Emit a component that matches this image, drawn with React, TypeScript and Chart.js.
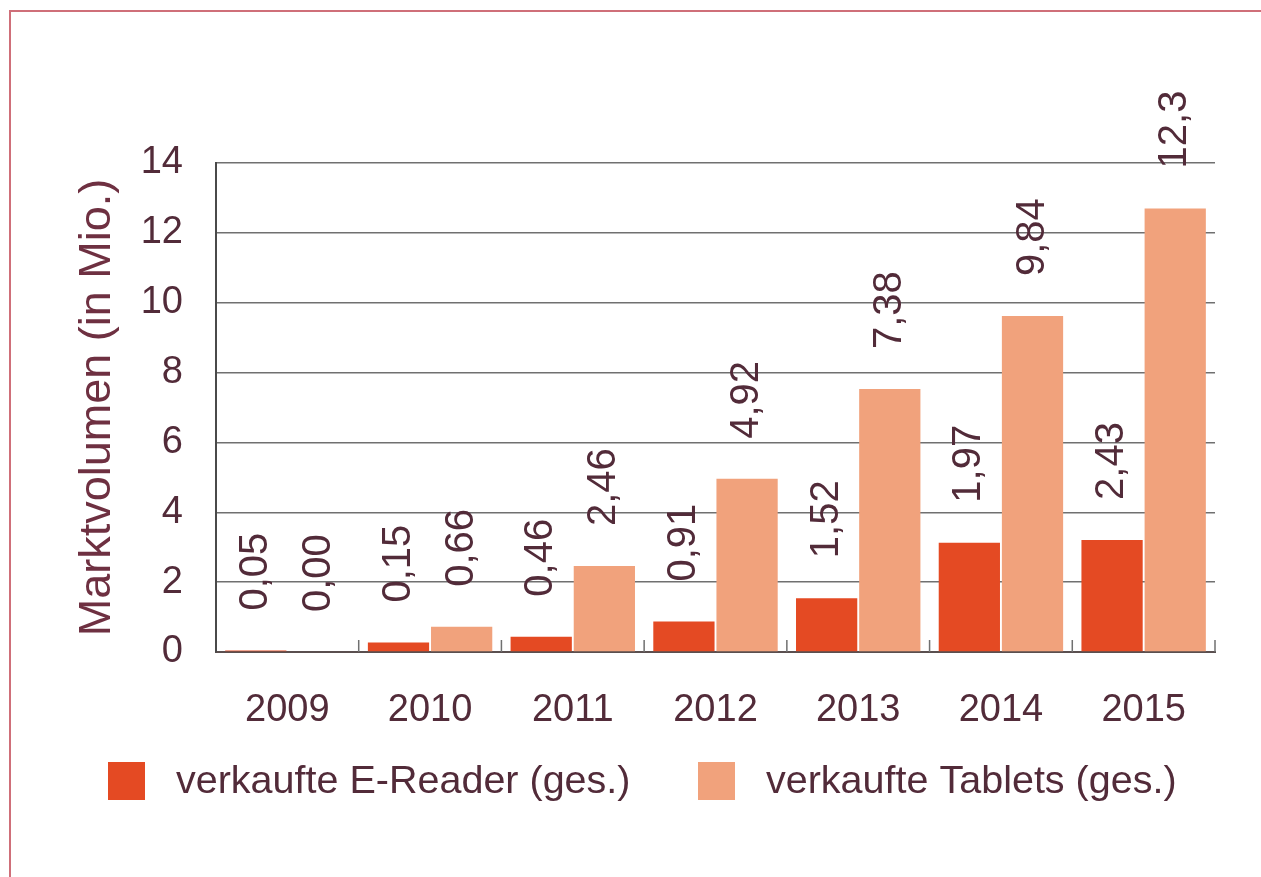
import React, { useEffect, useRef } from "react";
import { Chart, registerables } from "chart.js";

Chart.register(...registerables);

const years = ["2009", "2010", "2011", "2012", "2013", "2014", "2015"];
const eReaderValues = [0.04, 0.27, 0.44, 0.87, 1.54, 3.13, 3.21];
const tabletValues = [0, 0.72, 2.46, 4.96, 7.53, 9.62, 12.7];
const eReaderLabels = ["0,05", "0,15", "0,46", "0,91", "1,52", "1,97", "2,43"];
const tabletLabels = ["0,00", "0,66", "2,46", "4,92", "7,38", "9,84", "12,3"];
const yTicks = [0, 2, 4, 6, 8, 10, 12, 14];
const seriesNames = ["verkaufte E-Reader (ges.)", "verkaufte Tablets (ges.)"];
const yTitle = "Marktvolumen (in Mio.)";

const valueLabels = [eReaderLabels, tabletLabels];

const FONT = "'Liberation Sans', Arial, Helvetica, sans-serif";
const TEXT = "#522b39";
const TITLE = "#6e3041";
const GRID = "#707070";
const E_COLOR = "#E44A23";
const T_COLOR = "#F1A27C";

const valueLabelPlugin = {
  id: "valueLabels",
  afterDatasetsDraw(chart: any) {
    const ctx = chart.ctx;
    chart.data.datasets.forEach((_ds: any, di: number) => {
      const meta = chart.getDatasetMeta(di);
      meta.data.forEach((bar: any, i: number) => {
        ctx.save();
        ctx.translate(bar.x, bar.y - 40);
        ctx.rotate(-Math.PI / 2);
        ctx.font = `40px ${FONT}`;
        ctx.fillStyle = TEXT;
        ctx.textAlign = "left";
        ctx.textBaseline = "middle";
        ctx.fillText(valueLabels[di][i], 0, 0);
        ctx.restore();
      });
    });
  },
};

const boundaryTickPlugin = {
  id: "boundaryTicks",
  afterDatasetsDraw(chart: any) {
    const ctx = chart.ctx;
    const xs = chart.scales.x;
    const n = chart.data.labels.length;
    const w = (xs.right - xs.left) / n;
    const bottom = chart.chartArea.bottom;
    ctx.save();
    ctx.strokeStyle = GRID;
    ctx.lineWidth = 1.5;
    ctx.beginPath();
    for (let i = 1; i <= n; i++) {
      const px = xs.left + i * w;
      ctx.moveTo(px, bottom);
      ctx.lineTo(px, bottom - 12);
    }
    ctx.stroke();
    ctx.restore();
  },
};

const legendPlugin = {
  id: "customLegend",
  afterDraw(chart: any) {
    const ctx = chart.ctx;
    const items = [
      { x: 108, color: E_COLOR, text: chart.data.datasets[0].label },
      { x: 698, color: T_COLOR, text: chart.data.datasets[1].label },
    ];
    ctx.save();
    ctx.font = `39.5px ${FONT}`;
    ctx.textAlign = "left";
    ctx.textBaseline = "middle";
    items.forEach((it) => {
      ctx.fillStyle = it.color;
      ctx.fillRect(it.x, 762, 37, 38);
      ctx.fillStyle = TEXT;
      ctx.fillText(it.text, it.x + 37 + 31, 782);
    });
    ctx.restore();
  },
};

export default function App() {
  const ref = useRef<HTMLCanvasElement | null>(null);

  useEffect(() => {
    if (!ref.current) return;
    const chart = new Chart(ref.current, {
      type: "bar",
      data: {
        labels: years,
        datasets: [
          {
            label: seriesNames[0],
            data: eReaderValues,
            backgroundColor: E_COLOR,
            categoryPercentage: 0.885,
            barPercentage: 0.97,
          },
          {
            label: seriesNames[1],
            data: tabletValues,
            backgroundColor: T_COLOR,
            categoryPercentage: 0.885,
            barPercentage: 0.97,
          },
        ],
      },
      options: {
        animation: false,
        responsive: false,
        maintainAspectRatio: false,
        layout: { padding: { top: 163, right: 46, bottom: 0, left: 0 } },
        plugins: {
          legend: { display: false },
          tooltip: { enabled: false },
        },
        scales: {
          x: {
            grid: { display: false, drawTicks: false },
            border: { display: true, color: "#5a4f4f", width: 2 },
            ticks: {
              color: TEXT,
              font: { family: FONT, size: 38 },
              padding: 36,
            },
            afterFit: (scale: any) => {
              scale.height = 225;
            },
          },
          y: {
            min: 0,
            max: 14,
            afterBuildTicks: (scale: any) => {
              scale.ticks = yTicks.map((v) => ({ value: v }));
            },
            grid: { color: GRID, lineWidth: 1.5, drawTicks: false },
            border: { display: true, color: "#4a4a4a", width: 2 },
            ticks: {
              color: TEXT,
              font: { family: FONT, size: 38 },
              padding: 33,
            },
            title: {
              display: true,
              text: yTitle,
              color: TITLE,
              font: { family: FONT, size: 45 },
              padding: { top: 71, bottom: 0 },
            },
            afterFit: (scale: any) => {
              scale.width = 216;
            },
          },
        },
      },
      plugins: [boundaryTickPlugin, valueLabelPlugin, legendPlugin],
    });
    return () => chart.destroy();
  }, []);

  return (
    <div
      style={{
        position: "fixed",
        left: 0,
        top: 0,
        width: 1261,
        height: 877,
        background: "#ffffff",
        overflow: "hidden",
      }}
    >
      <canvas
        ref={ref}
        width={1261}
        height={877}
        style={{ position: "absolute", left: 0, top: 0, width: 1261, height: 877 }}
      />
      <div
        style={{
          position: "absolute",
          left: 9,
          top: 10,
          width: 1400,
          height: 1000,
          borderTop: "2px solid #cf6f79",
          borderLeft: "2px solid #cf6f79",
          pointerEvents: "none",
        }}
      />
    </div>
  );
}
